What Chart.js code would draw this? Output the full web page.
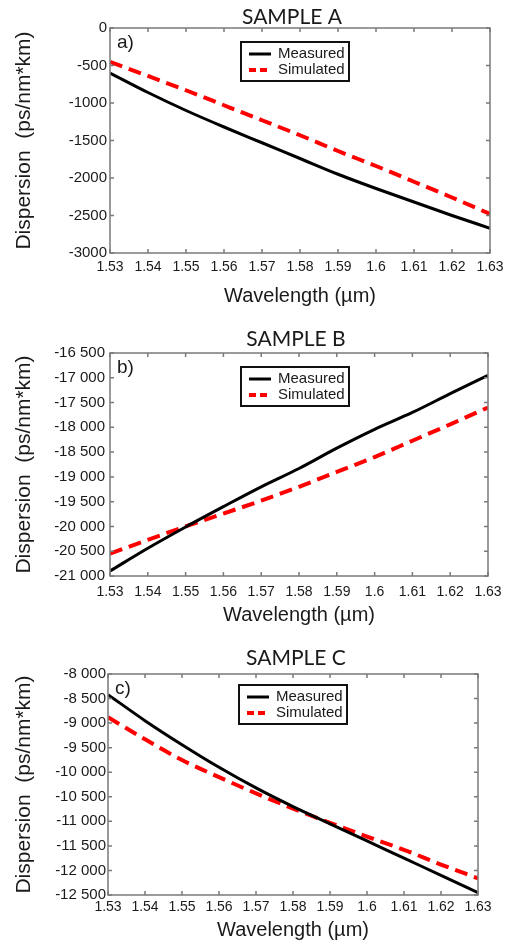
<!DOCTYPE html>
<html><head><meta charset="utf-8">
<script src="https://cdn.jsdelivr.net/npm/chart.js@4"></script>
<style>
html,body{margin:0;padding:0;background:#fff;width:514px;height:946px;overflow:hidden}
canvas{position:absolute;left:0}
</style></head><body>
<canvas id="cA" width="514" height="310" style="top:0px"></canvas>
<canvas id="cB" width="514" height="320" style="top:310px"></canvas>
<canvas id="cC" width="514" height="316" style="top:630px"></canvas>
<script>
// ---- data ----
const wavelengths = [1.53, 1.54, 1.55, 1.56, 1.57, 1.58, 1.59, 1.60, 1.61, 1.62, 1.63];
const xTickLabels = ['1.53','1.54','1.55','1.56','1.57','1.58','1.59','1.6','1.61','1.62','1.63'];

const measuredA  = [-600, -860, -1100, -1320, -1530, -1740, -1950, -2140, -2320, -2500, -2670];
const simulatedA = [-450, -640, -830, -1030, -1230, -1430, -1640, -1840, -2050, -2260, -2480];
const yTicksA      = [0, -500, -1000, -1500, -2000, -2500, -3000];
const yTickLabelsA = ['0', '-500', '-1000', '-1500', '-2000', '-2500', '-3000'];

const measuredB  = [-20900, -20440, -20010, -19600, -19200, -18830, -18420, -18040, -17700, -17320, -16950];
const simulatedB = [-20550, -20270, -20000, -19740, -19480, -19200, -18900, -18600, -18270, -17940, -17600];
const yTicksB      = [-16500, -17000, -17500, -18000, -18500, -19000, -19500, -20000, -20500, -21000];
const yTickLabelsB = ['-16 500','-17 000','-17 500','-18 000','-18 500','-19 000','-19 500','-20 000','-20 500','-21 000'];

const measuredC  = [-8420, -8950, -9440, -9900, -10320, -10700, -11050, -11400, -11750, -12100, -12450];
const simulatedC = [-8880, -9330, -9750, -10100, -10430, -10740, -11030, -11310, -11580, -11880, -12160];
const yTicksC      = [-8000, -8500, -9000, -9500, -10000, -10500, -11000, -11500, -12000, -12500];
const yTickLabelsC = ['-8 000','-8 500','-9 000','-9 500','-10 000','-10 500','-11 000','-11 500','-12 000','-12 500'];

const seriesNames = ['Measured', 'Simulated'];
const panelTitles = ['SAMPLE A', 'SAMPLE B', 'SAMPLE C'];
const panelTags = ['a)', 'b)', 'c)'];

// ---- drawing ----
const TEXT = '#1a1a1a';
const AXISC = '#7a7a7a';

const framePlugin = {
  id: 'frame',
  afterDatasetsDraw(chart, args, o) {
    const {ctx, chartArea: a, scales: {x, y}} = chart;
    ctx.save();
    ctx.strokeStyle = AXISC;
    ctx.lineWidth = 1.5;
    ctx.beginPath();
    x.ticks.forEach(t => {
      const px = x.getPixelForValue(t.value);
      ctx.moveTo(px, a.bottom); ctx.lineTo(px, a.bottom - 4);
      ctx.moveTo(px, a.top); ctx.lineTo(px, a.top + 4);
    });
    y.ticks.forEach(t => {
      const py = y.getPixelForValue(t.value);
      ctx.moveTo(a.left, py); ctx.lineTo(a.left + 4, py);
      ctx.moveTo(a.right, py); ctx.lineTo(a.right - 4, py);
    });
    ctx.stroke();
    ctx.strokeRect(a.left, a.top, a.right - a.left, a.bottom - a.top);

    // panel title
    ctx.fillStyle = TEXT;
    ctx.textBaseline = 'middle';
    ctx.textAlign = 'center';
    ctx.font = '21px Lato, "Open Sans", sans-serif';
    ctx.fillText(o.title, a.left + o.titleDx, a.top - o.titleDy);

    // panel tag
    ctx.font = '19px "Liberation Sans", Arial, sans-serif';
    ctx.textAlign = 'left';
    ctx.fillText(o.tag, a.left + 7, a.top + 15);

    // legend box
    const bx = a.left + o.lx, by = a.top + o.ly, bw = 108, bh = 39;
    ctx.fillStyle = '#fff';
    ctx.fillRect(bx, by, bw, bh);
    ctx.strokeStyle = '#111';
    ctx.lineWidth = 2;
    ctx.strokeRect(bx, by, bw, bh);
    ctx.font = '15px "Liberation Sans", Arial, sans-serif';
    chart.data.datasets.forEach((ds, i) => {
      const ry = by + 12 + i * 16;
      ctx.save();
      ctx.strokeStyle = ds.borderColor;
      ctx.lineWidth = ds.borderWidth;
      ctx.setLineDash(ds.borderDash ? [7, 4] : []);
      ctx.beginPath();
      ctx.moveTo(bx + 8, ry); ctx.lineTo(bx + 30, ry);
      ctx.stroke();
      ctx.restore();
      ctx.fillStyle = TEXT;
      ctx.fillText(ds.label, bx + 37, ry);
    });
    ctx.restore();
  }
};

function makeChart(id, p) {
  const toPts = arr => wavelengths.map((w, i) => ({x: w, y: arr[i]}));
  return new Chart(document.getElementById(id), {
    type: 'line',
    data: {
      datasets: [
        {label: seriesNames[0], data: toPts(p.measured), borderColor: '#000000', borderWidth: 3,
         pointRadius: 0, cubicInterpolationMode: 'monotone', fill: false},
        {label: seriesNames[1], data: toPts(p.simulated), borderColor: '#ff0000', borderWidth: 4,
         borderDash: [13, 7], pointRadius: 0, cubicInterpolationMode: 'monotone', fill: false}
      ]
    },
    options: {
      responsive: false,
      animation: false,
      events: [],
      layout: {padding: {left: 0, right: p.rightPad, top: p.topPad, bottom: 0}},
      plugins: {
        legend: {display: false},
        tooltip: {enabled: false},
        title: {display: false},
        frame: {title: p.title, titleDx: p.titleDx, titleDy: p.titleDy, tag: p.tag, lx: 131, ly: p.ly}
      },
      scales: {
        x: {
          type: 'linear', min: 1.53, max: 1.63,
          afterBuildTicks: s => { s.ticks = wavelengths.map(v => ({value: v})); },
          afterFit: s => { s.height = p.xHeight; },
          grid: {display: false, drawTicks: false},
          border: {display: false},
          ticks: {color: TEXT, padding: p.xTickPad, maxRotation: 0, autoSkip: false,
                  font: {family: '"Liberation Sans", Arial, sans-serif', size: 14},
                  callback: (v, i) => xTickLabels[i]},
          title: {display: true, text: 'Wavelength (µm)', color: TEXT,
                  font: {family: '"Liberation Sans", Arial, sans-serif', size: 20},
                  padding: {top: 0, bottom: p.xTitlePad}}
        },
        y: {
          type: 'linear', min: p.yMin, max: p.yMax,
          afterBuildTicks: s => { s.ticks = p.yTicks.map(v => ({value: v})); },
          afterFit: s => { s.width = p.yWidth; },
          grid: {display: false, drawTicks: false},
          border: {display: false},
          ticks: {color: TEXT, padding: p.yTickPad, autoSkip: false,
                  font: {family: '"Liberation Sans", Arial, sans-serif', size: 15},
                  callback: (v, i) => p.yLabels[i]},
          title: {display: true, text: 'Dispersion  (ps/nm*km)', color: TEXT,
                  font: {family: '"Liberation Sans", Arial, sans-serif', size: 21},
                  padding: {top: 12, bottom: 0}}
        }
      }
    },
    plugins: [framePlugin]
  });
}

makeChart('cA', {title: panelTitles[0], tag: panelTags[0], measured: measuredA, simulated: simulatedA,
  yMin: -3000, yMax: 0, yTicks: yTicksA, yLabels: yTickLabelsA,
  yWidth: 110, rightPad: 24, topPad: 28, xHeight: 57, titleDx: 182, titleDy: 11,
  xTickPad: 5.5, xTitlePad: 2, yTickPad: 3, ly: 14});

makeChart('cB', {title: panelTitles[1], tag: panelTags[1], measured: measuredB, simulated: simulatedB,
  yMin: -21000, yMax: -16500, yTicks: yTicksB, yLabels: yTickLabelsB,
  yWidth: 110, rightPad: 26, topPad: 43, xHeight: 54, titleDx: 186, titleDy: 14,
  xTickPad: 7.5, xTitlePad: 3, yTickPad: 5, ly: 14});

makeChart('cC', {title: panelTitles[2], tag: panelTags[2], measured: measuredC, simulated: simulatedC,
  yMin: -12500, yMax: -8000, yTicks: yTicksC, yLabels: yTickLabelsC,
  yWidth: 108, rightPad: 36, topPad: 44, xHeight: 51, titleDx: 188, titleDy: 16,
  xTickPad: 3.5, xTitlePad: 4, yTickPad: 2, ly: 11});
</script>
</body></html>
